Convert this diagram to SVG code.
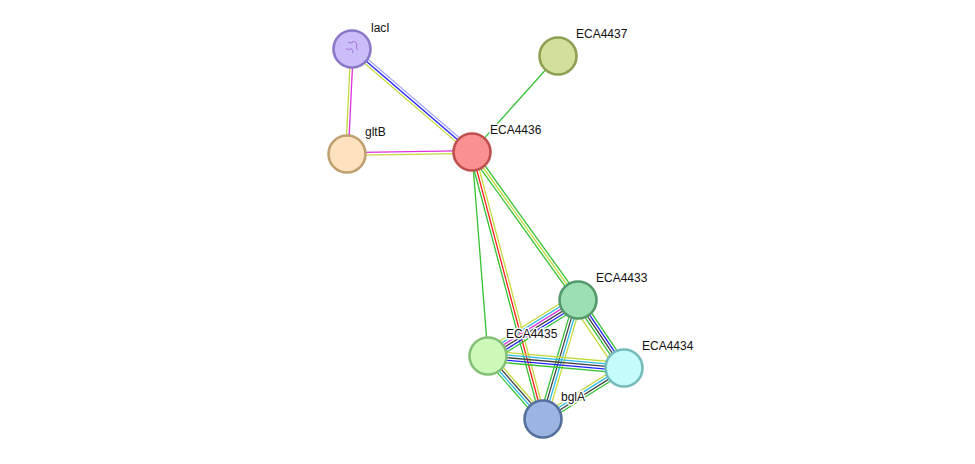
<svg xmlns="http://www.w3.org/2000/svg" width="975" height="464" viewBox="0 0 975 464">
<style>
line{stroke-width:1.3;fill:none}
.g{stroke:#32c232}.y{stroke:#c5d93a}.r{stroke:#ff2020}.b{stroke:#2222ff}.m{stroke:#e030e0}
.c{stroke:#28b8e8}.k{stroke:#444}.h{stroke:#a8a8ff}
circle{stroke-width:2.6}
text{font-family:"Liberation Sans",Arial,sans-serif;font-size:12px;fill:#111;stroke:#fff;stroke-width:3;paint-order:stroke;stroke-linejoin:round}
</style>
<rect width="975" height="464" fill="#fff"/>
<g id="connectors">
<g transform="translate(352,49) rotate(92.73)"><line class="m" x1="0" y1="-1.3" x2="105" y2="-1.3"/><line class="y" x1="0" y1="1.3" x2="105" y2="1.3"/></g>
<g transform="translate(352,49) rotate(40.64)"><line class="h" x1="0" y1="-2.6" x2="158" y2="-2.6"/><line class="b" x1="0" y1="0" x2="158" y2="0"/><line class="y" x1="0" y1="2.6" x2="158" y2="2.6"/></g>
<g transform="translate(347,154) rotate(-0.92)"><line class="m" x1="0" y1="-1.3" x2="125" y2="-1.3"/><line class="y" x1="0" y1="1.3" x2="125" y2="1.3"/></g>
<g transform="translate(558,56) rotate(131.85)"><line class="g" x1="0" y1="0" x2="129" y2="0"/></g>
<g transform="translate(472,152) rotate(54.38)"><line class="g" x1="0" y1="-2.6" x2="182" y2="-2.6"/><line class="y" x1="0" y1="0" x2="182" y2="0"/><line class="g" x1="0" y1="2.6" x2="182" y2="2.6"/></g>
<g transform="translate(472,152) rotate(85.52)"><line class="g" x1="0" y1="0" x2="204" y2="0"/></g>
<g transform="translate(472,152) rotate(75.11)"><line class="y" x1="0" y1="-2.6" x2="276" y2="-2.6"/><line class="r" x1="0" y1="0" x2="276" y2="0"/><line class="g" x1="0" y1="2.6" x2="276" y2="2.6"/></g>
<g transform="translate(578,300) rotate(148.11)"><line class="g" x1="0" y1="-6.5" x2="106" y2="-6.5"/><line class="b" x1="0" y1="-3.9" x2="106" y2="-3.9"/><line class="k" x1="0" y1="-1.3" x2="106" y2="-1.3"/><line class="m" x1="0" y1="1.3" x2="106" y2="1.3"/><line class="c" x1="0" y1="3.9" x2="106" y2="3.9"/><line class="y" x1="0" y1="6.5" x2="106" y2="6.5"/></g>
<g transform="translate(578,300) rotate(55.92)"><line class="g" x1="0" y1="-3.9" x2="82" y2="-3.9"/><line class="b" x1="0" y1="-1.3" x2="82" y2="-1.3"/><line class="k" x1="0" y1="1.3" x2="82" y2="1.3"/><line class="g" x1="0" y1="3.9" x2="82" y2="3.9"/><line class="y" x1="0" y1="7.5" x2="82" y2="7.5"/></g>
<g transform="translate(578,300) rotate(106.39)"><line class="y" x1="0" y1="-3.9" x2="124" y2="-3.9"/><line class="c" x1="0" y1="-1.3" x2="124" y2="-1.3"/><line class="k" x1="0" y1="1.3" x2="124" y2="1.3"/><line class="g" x1="0" y1="3.9" x2="124" y2="3.9"/></g>
<g transform="translate(488,356) rotate(5.04)"><line class="y" x1="0" y1="-5.2" x2="136" y2="-5.2"/><line class="c" x1="0" y1="-2.6" x2="136" y2="-2.6"/><line class="k" x1="0" y1="0" x2="136" y2="0"/><line class="b" x1="0" y1="2.6" x2="136" y2="2.6"/><line class="g" x1="0" y1="5.2" x2="136" y2="5.2"/></g>
<g transform="translate(488,356) rotate(48.88)"><line class="y" x1="0" y1="-3.9" x2="84" y2="-3.9"/><line class="k" x1="0" y1="-1.3" x2="84" y2="-1.3"/><line class="c" x1="0" y1="1.3" x2="84" y2="1.3"/><line class="g" x1="0" y1="3.9" x2="84" y2="3.9"/></g>
<g transform="translate(624,368) rotate(147.8)"><line class="g" x1="0" y1="-3.9" x2="96" y2="-3.9"/><line class="k" x1="0" y1="-1.3" x2="96" y2="-1.3"/><line class="c" x1="0" y1="1.3" x2="96" y2="1.3"/><line class="y" x1="0" y1="3.9" x2="96" y2="3.9"/></g>
</g>
<g id="lacI"><circle cx="352" cy="49" r="18.5" fill="#cbbdf7" stroke="#8a78c8"/><path d="M348 42q3 2 5 0t4 3q-2 3 1 5M346 48q2 3 4 1t3 4" fill="none" stroke="#9a60d0" stroke-width="0.8"/><text x="371" y="32">lacI</text></g>
<g id="ECA4437"><circle cx="558" cy="56" r="18.5" fill="#d3e09c" stroke="#8da052"/><text x="576" y="38">ECA4437</text></g>
<g id="gltB"><circle cx="347" cy="154" r="18.5" fill="#fde2c0" stroke="#c0a070"/><text x="365" y="136">gltB</text></g>
<g id="ECA4436"><circle cx="472" cy="152" r="18.5" fill="#fa9090" stroke="#bf5050"/><text x="490" y="134">ECA4436</text></g>
<g id="ECA4433"><circle cx="578" cy="300" r="18.5" fill="#9bdfb2" stroke="#559a6c"/><text x="596" y="282">ECA4433</text></g>
<g id="ECA4435"><circle cx="488" cy="356" r="18.5" fill="#cefab9" stroke="#86c078"/><text x="506" y="338">ECA4435</text></g>
<g id="ECA4434"><circle cx="624" cy="368" r="18.5" fill="#c5fdfd" stroke="#74bcbc"/><text x="642" y="350">ECA4434</text></g>
<g id="bglA"><circle cx="543" cy="419" r="18.5" fill="#9bb4e2" stroke="#56709e"/><text x="561" y="401">bglA</text></g>
</svg>
